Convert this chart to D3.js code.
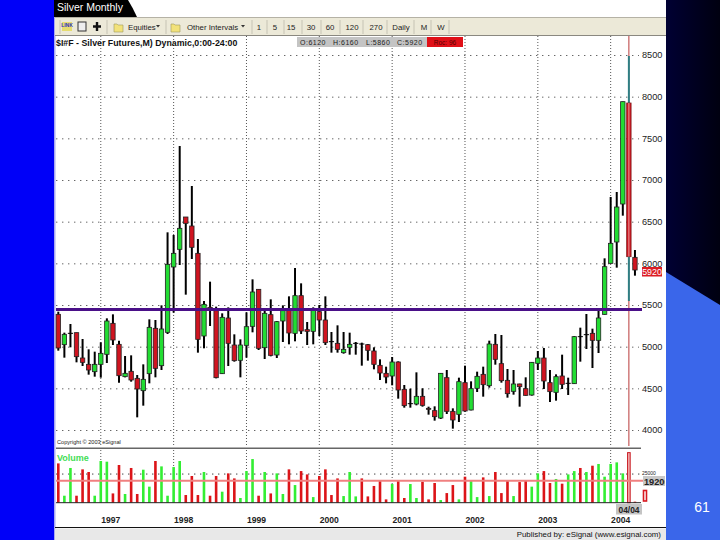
<!DOCTYPE html>
<html><head><meta charset="utf-8">
<script src="https://cdn.jsdelivr.net/npm/d3@7"></script>
<style>html,body{margin:0;padding:0;background:#fff}svg{display:block}text{font-family:"Liberation Sans",Arial,sans-serif}</style>
</head><body><svg id="c" width="720" height="540"></svg>
<script>
const chartTitle="Silver Monthly";
const instrument="$I#F - Silver Futures,M) Dynamic,0:00-24:00";
const quoteFields=["O:6120","H:6160","L:5860","C:5920"];
const rocText="Roc:  96";
const copyrightText="Copyright © 2003 eSignal";
const publishedText="Published by: eSignal (www.esignal.com)";
const priceTicks=[4000,4500,5000,5500,6000,6500,7000,7500,8000,8500];
const yearLabels=["1997","1998","1999","2000","2001","2002","2003","2004"];
const yearIndex=[7,19,31,43,55,67,79,91];
const toolbarLabels=["Equities","Other Intervals","1","5","15","30","60","120","270","Daily","M","W"];
const highs=[5420,5168,5272,5168,5092,4968,4940,5052,5340,5388,5072,4888,4896,4660,4788,5328,5320,5496,6372,6340,7408,6556,6928,6292,5548,5780,5480,5400,5472,5148,5088,5412,5808,5688,5448,5568,5308,5496,5604,5944,5760,5296,5472,5500,5604,5176,5256,5176,5168,5056,5048,5032,4992,4848,4760,4876,4824,4540,4496,4692,4500,4280,4284,4684,4720,4260,4628,4772,4584,4700,4760,5072,5152,5140,4732,4720,4556,4632,4816,4948,4984,4720,4668,4904,4628,5128,5228,5392,5216,5440,6060,6796,6856,7940,8488,6160];
const lows=[4952,4868,4992,4812,4768,4664,4640,4628,4804,5020,4568,4632,4580,4152,4292,4560,4632,4720,5152,5408,5980,5624,6052,4928,4980,5248,4620,4672,4768,4820,4632,4868,5172,4960,4852,4884,4864,5056,5028,5064,5152,5020,5028,5128,5020,4928,4928,4916,4904,4904,4772,4832,4728,4600,4560,4536,4376,4268,4268,4296,4280,4184,4112,4132,4192,4016,4096,4220,4236,4456,4400,4508,4784,4568,4388,4424,4280,4412,4412,4720,4492,4336,4352,4492,4420,4552,4820,4972,4744,4924,5384,5996,5948,6572,5548,5852];
const opens=[5388,5024,5160,5168,4864,4788,4700,4788,4908,5280,5028,4640,4704,4620,4472,4676,5220,4772,5172,5956,6168,6556,6448,6120,5128,5472,5432,4676,5344,5020,4836,5016,5244,5688,4988,5384,4900,5308,5456,5160,5612,5204,5184,5420,5320,5060,5040,4928,4992,5040,5032,5024,4948,4776,4680,4648,4816,4488,4316,4312,4404,4260,4232,4144,4628,4224,4188,4568,4240,4500,4668,4532,5028,4796,4596,4464,4552,4496,4420,4800,4864,4568,4452,4648,4560,4556,5120,5144,5160,5076,5388,6000,6256,6712,7924,6072];
const closes=[4984,5148,5160,4880,4812,4720,4788,4920,5308,5080,4652,4680,4600,4492,4608,5232,4740,5212,5988,6120,6420,6480,6192,5088,5508,5460,4628,5352,5040,4832,5020,5240,5656,4980,5400,4896,5300,5432,5164,5612,5188,5184,5444,5320,5048,5060,4968,4968,5028,5040,5032,4956,4788,4684,4636,4816,4480,4292,4316,4404,4296,4248,4160,4680,4224,4120,4580,4228,4496,4644,4544,5032,4848,4592,4436,4552,4520,4416,4812,4864,4588,4460,4640,4548,4560,5120,5120,5144,5076,5344,5960,6240,6676,7940,6080,5920];
const volumes=[34.3,6.1,30.3,6.1,29.1,26.8,6.1,36.4,35.8,8.1,32.9,7.6,30.3,7.6,28.8,14.0,36.4,31.7,6.1,31.1,36.4,6.7,23.3,6.7,26.8,6.1,23.3,9.6,25.6,21.2,4.1,27.6,38.1,6.1,26.8,8.1,25.6,7.6,29.1,15.4,27.6,24.7,4.9,23.3,29.1,6.7,21.2,5.8,26.8,5.5,21.2,5.5,14.6,18.9,2.9,16.3,18.9,4.1,16.3,4.1,18.3,2.9,17.2,2.3,8.4,15.4,2.9,22.7,18.9,4.9,22.1,5.8,26.8,8.4,18.9,5.8,18.0,19.8,14.0,25.6,27.6,17.2,20.7,16.6,24.7,27.6,30.3,26.8,32.3,33.8,22.7,33.8,35.2,25.6,43.7,0.9];
const volUp=[0,1,1,0,0,0,1,1,1,0,0,1,0,0,1,1,0,1,1,1,1,0,0,0,1,0,0,1,0,0,1,1,1,0,1,0,1,1,0,1,0,0,1,0,0,0,0,1,1,1,0,0,0,0,0,1,0,0,1,1,0,0,0,1,0,0,1,0,1,1,0,1,0,0,0,1,0,0,1,1,0,0,1,0,1,1,0,1,0,1,1,1,1,1,0,0];
const supportLevel=5445, volumeAverage=19.2, volumeGrid=25;

const svg=d3.select("#c");
const N=highs.length, cursor=N-2;
const x=d3.scaleLinear().domain([0,N-1]).range([58.3,634.95]);
const y=d3.scaleLinear().domain([4000,8500]).range([430,55]);
const yv=d3.scaleLinear().domain([0,19.2]).range([502.7,480.7]);
const L=56,R=641;

// slide background
const defs=svg.append("defs");
const g=defs.append("linearGradient").attr("id","navy").attr("x1",0).attr("x2",1).attr("y1",0).attr("y2",0);
g.append("stop").attr("offset",0).attr("stop-color","#000033");
g.append("stop").attr("offset",1).attr("stop-color","#000010");
defs.append("clipPath").attr("id","volclip").append("rect").attr("x",642).attr("y",470).attr("width",23).attr("height",20);
svg.append("rect").attr("width",720).attr("height",540).attr("fill","#fff");
svg.append("rect").attr("width",54).attr("height",540).attr("fill","#0000f8");
svg.append("rect").attr("x",54).attr("width",1.5).attr("height",540).attr("fill","#a8a8f0");
svg.append("rect").attr("x",666).attr("width",54).attr("height",540).attr("fill","url(#navy)");
svg.append("path").attr("d","M666,272L720,305L720,540L666,540Z").attr("fill","#3a66ea");
svg.append("text").attr("x",702).attr("y",512).attr("text-anchor","middle").attr("fill","#fff").attr("font-size",14).text("61");

// title tab
svg.append("path").attr("d","M54,0H128Q133,8 137,17H54Z").attr("fill","#000");
svg.append("text").attr("x",57).attr("y",11).attr("fill","#fff").attr("font-size",10.5).text(chartTitle);

// toolbar
svg.append("rect").attr("x",55).attr("y",18).attr("width",611).attr("height",17).attr("fill","#ece9d8");
svg.append("line").attr("x1",55).attr("x2",666).attr("y1",17.5).attr("y2",17.5).attr("stroke","#b5b2a5");
svg.append("line").attr("x1",55).attr("x2",666).attr("y1",35.5).attr("y2",35.5).attr("stroke","#8a8880").attr("stroke-width",1.2);
const toolX=[128,187,259,275,291,311,330,352,376,401,424,441];
const toolW=[0,0,1,1,1,1,1,1,1,1,1,1];
svg.append("g").selectAll("text").data(toolbarLabels).join("text")
 .attr("x",(d,i)=>toolX[i]).attr("y",30).attr("font-size",7.8).attr("fill","#222")
 .attr("text-anchor",(d,i)=>toolW[i]?"middle":"start").text(d=>d);
[158,243].forEach(a=>svg.append("path").attr("d",`M${a-2},25h4l-2,2.5z`).attr("fill","#333"));
svg.append("g").selectAll("line").data([60,107,166,252,267,284,302,321,340,363,387,414,431,449]).join("line")
 .attr("x1",d=>d).attr("x2",d=>d).attr("y1",20).attr("y2",34).attr("stroke","#c6c3b4");
[118,175].forEach(a=>svg.append("path").attr("d",`M${a-4},24h3l1,1h5v7h-9z`).attr("fill","#f2e27a").attr("stroke","#a09a60").attr("stroke-width",.6));
svg.append("rect").attr("x",62).attr("y",22).attr("width",10).attr("height",9).attr("fill","#e6dc70");
svg.append("text").attr("x",67).attr("y",27).attr("text-anchor","middle").attr("font-size",5).attr("fill","#3030c0").attr("font-weight","bold").text("LINK");
svg.append("rect").attr("x",78).attr("y",22).attr("width",8).attr("height",9).attr("fill","#eee").attr("stroke","#333").attr("stroke-width",1);
svg.append("path").attr("d","M97,22v9M93,26.5h8").attr("stroke","#111").attr("stroke-width",2.4);

// price grid
svg.append("g").attr("transform",`translate(${L},0)`)
 .call(d3.axisRight(y).tickValues(priceTicks).tickSize(R-L-2).tickFormat(""))
 .call(s=>s.select(".domain").remove())
 .selectAll("line").attr("stroke","#666").attr("stroke-dasharray","1.4 4.6");
// year grid (price and volume panes)
const yg=svg.append("g");
yg.selectAll("line.p").data(yearIndex).join("line").attr("class","p")
 .attr("x1",d=>x(d)).attr("x2",d=>x(d)).attr("y1",36).attr("y2",447).attr("stroke","#555").attr("stroke-dasharray","1 2");
yg.selectAll("line.v").data(yearIndex).join("line").attr("class","v")
 .attr("x1",d=>x(d)).attr("x2",d=>x(d)).attr("y1",450).attr("y2",503).attr("stroke","#555").attr("stroke-dasharray","1 2");
svg.append("line").attr("x1",L).attr("x2",R).attr("y1",yv(volumeGrid)).attr("y2",yv(volumeGrid)).attr("stroke","#444").attr("stroke-dasharray","1.4 4.6");

// cursor
svg.append("line").attr("x1",x(cursor)).attr("x2",x(cursor)).attr("y1",36).attr("y2",446).attr("stroke","#b83a3a").attr("stroke-width",1);

// wicks and bodies
const idx=d3.range(N);
const isDoji=i=>opens[i]===closes[i];
svg.append("g").selectAll("line").data(idx).join("line")
 .attr("x1",i=>x(i)).attr("x2",i=>x(i)).attr("y1",i=>y(highs[i])).attr("y2",i=>y(lows[i]))
 .attr("stroke",i=>i===cursor?"#2f7f84":"#000").attr("stroke-width",2);
svg.append("g").selectAll("line").data(idx.filter(isDoji)).join("line")
 .attr("x1",i=>x(i)-2.6).attr("x2",i=>x(i)+2.6).attr("y1",i=>y(opens[i])).attr("y2",i=>y(opens[i]))
 .attr("stroke","#000").attr("stroke-width",1);
svg.append("g").selectAll("rect").data(idx.filter(i=>!isDoji(i))).join("rect")
 .attr("x",i=>x(i)-2.2).attr("width",4.4)
 .attr("y",i=>y(Math.max(opens[i],closes[i])))
 .attr("height",i=>Math.abs(y(opens[i])-y(closes[i])))
 .attr("fill",i=>closes[i]>opens[i]?"#22dd33":"#d01420")
 .attr("stroke",i=>i===cursor?"#7d1f1f":"#222").attr("stroke-width",.8);
svg.append("line").attr("x1",x(cursor)).attr("x2",x(cursor)).attr("y1",y(opens[cursor])).attr("y2",y(closes[cursor])).attr("stroke","#e8a0a0").attr("stroke-width",1);

// support line
svg.append("line").attr("x1",L).attr("x2",642).attr("y1",y(supportLevel)).attr("y2",y(supportLevel)).attr("stroke","#4a1088").attr("stroke-width",3);

// price labels
svg.append("g").attr("transform","translate(642,0)")
 .call(d3.axisRight(y).tickValues(priceTicks).tickSize(0).tickPadding(0).tickFormat(d3.format("d")))
 .call(s=>s.select(".domain").remove())
 .selectAll("text").attr("font-size",9.2).attr("fill","#222").attr("font-family","Liberation Sans");
svg.append("rect").attr("x",642).attr("y",267).attr("width",20).attr("height",9.5).attr("fill","#dc1c24");
svg.append("text").attr("x",652).attr("y",275.3).attr("text-anchor","middle").attr("fill","#fff").attr("font-size",8.8).text(d3.format("d")(closes[N-1]));

// header texts
svg.append("text").attr("x",56).attr("y",46).attr("font-size",8.8).attr("font-weight","bold").attr("fill","#111").text(instrument);
svg.append("rect").attr("x",297).attr("y",37).attr("width",130).attr("height",10).attr("fill","#c4c4c4");
svg.append("rect").attr("x",427).attr("y",37).attr("width",36).attr("height",10).attr("fill","#e01018");
const quoteX=[300,333,366,397];
svg.append("g").selectAll("text").data(quoteFields).join("text")
 .attr("x",(d,i)=>quoteX[i]).attr("y",45).attr("font-size",7).attr("letter-spacing",.5).attr("fill","#222").text(d=>d);
svg.append("text").attr("x",445).attr("y",45).attr("text-anchor","middle").attr("font-size",6.5).attr("fill","#500").text(rocText);
svg.append("text").attr("x",57).attr("y",444).attr("font-size",5.6).attr("fill","#222").text(copyrightText);

// volume pane
svg.append("line").attr("x1",L).attr("x2",R).attr("y1",448.3).attr("y2",448.3).attr("stroke","#666").attr("stroke-width",1.4);
svg.append("text").attr("x",57).attr("y",461).attr("font-size",9).attr("font-weight","bold").attr("fill","#44dd55").text("Volume");
svg.append("g").selectAll("rect").data(idx).join("rect")
 .attr("x",i=>x(i)-1.3).attr("width",2.6)
 .attr("y",i=>yv(volumes[i])).attr("height",i=>yv(0)-yv(volumes[i]))
 .attr("fill",i=>i===cursor?"#f2b0b0":(volUp[i]?"#33ee33":"#dc1418"))
 .attr("stroke",i=>i===cursor?"#c81820":"none").attr("stroke-width",1);
svg.append("line").attr("x1",L).attr("x2",R).attr("y1",yv(0)).attr("y2",yv(0)).attr("stroke","#222").attr("stroke-width",1);
svg.append("line").attr("x1",L).attr("x2",643).attr("y1",yv(volumeAverage)).attr("y2",yv(volumeAverage)).attr("stroke","#f08080").attr("stroke-width",2);
svg.append("rect").attr("x",643).attr("y",476).attr("width",22).attr("height",10).attr("fill","#c8c8c8");
svg.append("text").attr("x",644).attr("y",484.8).attr("font-size",9.2).attr("font-weight","bold").attr("fill","#222").attr("clip-path","url(#volclip)").text("19200");
svg.append("text").attr("x",642).attr("y",474.5).attr("font-size",5).attr("fill","#222").text("25000");
svg.append("rect").attr("x",643.5).attr("y",490.5).attr("width",3).attr("height",10.5).attr("fill","#fff").attr("stroke","#d81820").attr("stroke-width",1.6);

// date axis
svg.append("rect").attr("x",616).attr("y",504).attr("width",26).attr("height",10.5).attr("fill","#c4c4c4");
svg.append("text").attr("x",629).attr("y",512.5).attr("text-anchor","middle").attr("font-size",8.4).attr("font-weight","bold").attr("fill","#222").text("04/04");
svg.append("g").attr("transform","translate(9.5,513.5)")
 .call(d3.axisBottom(x).tickValues(yearIndex).tickSize(0).tickPadding(3).tickFormat((d,i)=>yearLabels[i]))
 .call(s=>s.select(".domain").remove())
 .selectAll("text").attr("font-size",8.6).attr("font-weight","bold").attr("fill","#222").attr("font-family","Liberation Sans");

// footer
svg.append("line").attr("x1",55).attr("x2",666).attr("y1",527.5).attr("y2",527.5).attr("stroke","#111").attr("stroke-width",1.2);
svg.append("rect").attr("x",55).attr("y",528.5).attr("width",611).attr("height",11.5).attr("fill","#e8e8e8");
svg.append("text").attr("x",661).attr("y",536.5).attr("text-anchor","end").attr("font-size",7.9).attr("fill","#111").text(publishedText);
</script></body></html>
